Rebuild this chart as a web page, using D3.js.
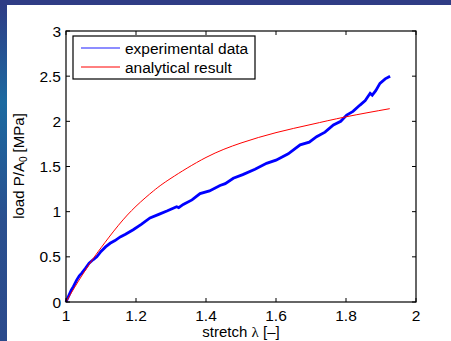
<!DOCTYPE html>
<html>
<head>
<meta charset="utf-8">
<script src="https://cdn.jsdelivr.net/npm/d3@7"></script>
<style>
  html, body { margin: 0; padding: 0; }
  body { width: 451px; height: 341px; overflow: hidden; }
  text { font-family: Arial, "Liberation Sans", sans-serif; fill: #000; }
</style>
</head>
<body>
<svg id="chart" width="451" height="341"></svg>
<script>
// stretch / load values
const expStretch = [1.000, 1.008, 1.015, 1.021, 1.030, 1.038, 1.045, 1.055, 1.066, 1.078, 1.088, 1.100, 1.113, 1.126, 1.140, 1.155, 1.170, 1.192, 1.215, 1.240, 1.265, 1.290, 1.316, 1.322, 1.335, 1.360, 1.383, 1.410, 1.440, 1.455, 1.478, 1.505, 1.540, 1.573, 1.600, 1.635, 1.669, 1.695, 1.716, 1.740, 1.764, 1.785, 1.802, 1.820, 1.840, 1.855, 1.869, 1.875, 1.885, 1.897, 1.912, 1.926];
const expLoad    = [0.00, 0.07, 0.13, 0.17, 0.24, 0.29, 0.32, 0.37, 0.43, 0.47, 0.50, 0.56, 0.61, 0.65, 0.68, 0.72, 0.75, 0.80, 0.86, 0.93, 0.97, 1.01, 1.055, 1.045, 1.08, 1.13, 1.20, 1.23, 1.29, 1.31, 1.37, 1.41, 1.47, 1.535, 1.57, 1.64, 1.74, 1.77, 1.83, 1.88, 1.96, 2.00, 2.07, 2.11, 2.18, 2.23, 2.31, 2.29, 2.34, 2.42, 2.47, 2.50];

const anaStretch = [1.000, 1.025, 1.050, 1.075, 1.100, 1.150, 1.200, 1.250, 1.300, 1.400, 1.500, 1.600, 1.700, 1.800, 1.925];
const anaLoad    = [0.00, 0.165, 0.32, 0.465, 0.60, 0.85, 1.06, 1.23, 1.37, 1.60, 1.76, 1.875, 1.965, 2.05, 2.14];

const xTicks = [1, 1.2, 1.4, 1.6, 1.8, 2];
const yTicks = [0, 0.5, 1, 1.5, 2, 2.5, 3];
const seriesNames = ['experimental data', 'analytical result'];
const seriesColors = ['#0000ff', '#ff0000'];

const svg = d3.select('#chart');

// slide background behind the figure
const defs = svg.append('defs');
const grad = defs.append('linearGradient')
    .attr('id', 'bg')
    .attr('x1', 0).attr('y1', 0).attr('x2', 0).attr('y2', 1);
grad.append('stop').attr('offset', '0%').attr('stop-color', '#2f3a84');
grad.append('stop').attr('offset', '30%').attr('stop-color', '#1c6aa0');
grad.append('stop').attr('offset', '65%').attr('stop-color', '#2a4f8e');
grad.append('stop').attr('offset', '100%').attr('stop-color', '#2b4a8c');
svg.append('rect').attr('width', 451).attr('height', 341).attr('fill', 'url(#bg)');
svg.append('rect').attr('width', 451).attr('height', 5).attr('fill', '#2f3c85');
svg.append('rect').attr('x', 7).attr('y', 5).attr('width', 444).attr('height', 336).attr('fill', '#fff');

const m = { left: 66, right: 416, top: 31, bottom: 302 };
const x = d3.scaleLinear().domain([1, 2]).range([m.left, m.right]);
const y = d3.scaleLinear().domain([0, 3]).range([m.bottom, m.top]);

const plot = svg.append('g');

// curves
const line = d3.line().x(d => x(d[0])).y(d => y(d[1]));
const expPts = expStretch.map((s, i) => [s, expLoad[i]]);
const anaPts = anaStretch.map((s, i) => [s, anaLoad[i]]);

plot.append('path')
    .datum(expPts)
    .attr('d', line)
    .attr('fill', 'none')
    .attr('stroke', seriesColors[0])
    .attr('stroke-width', 2.8)
    .attr('stroke-linejoin', 'miter');

plot.append('path')
    .datum(anaPts)
    .attr('d', d3.line().curve(d3.curveNatural).x(d => x(d[0])).y(d => y(d[1])))
    .attr('fill', 'none')
    .attr('stroke', seriesColors[1])
    .attr('stroke-width', 1);

// axes (inward ticks on all four sides)
const tickLen = 4;
const axes = svg.append('g');
axes.append('rect')
    .attr('x', m.left).attr('y', m.top)
    .attr('width', m.right - m.left).attr('height', m.bottom - m.top)
    .attr('fill', 'none').attr('stroke', '#000').attr('stroke-width', 1.2);

xTicks.forEach(t => {
    axes.append('line').attr('x1', x(t)).attr('x2', x(t)).attr('y1', m.bottom).attr('y2', m.bottom - tickLen).attr('stroke', '#000');
    axes.append('line').attr('x1', x(t)).attr('x2', x(t)).attr('y1', m.top).attr('y2', m.top + tickLen).attr('stroke', '#000');
    axes.append('text')
        .attr('x', x(t)).attr('y', 321)
        .attr('text-anchor', 'middle')
        .style('font-size', '15.5px')
        .text(d3.format('~g')(t));
});

yTicks.forEach(t => {
    axes.append('line').attr('x1', m.left).attr('x2', m.left + tickLen).attr('y1', y(t)).attr('y2', y(t)).attr('stroke', '#000');
    axes.append('line').attr('x1', m.right).attr('x2', m.right - tickLen).attr('y1', y(t)).attr('y2', y(t)).attr('stroke', '#000');
    axes.append('text')
        .attr('x', 61).attr('y', y(t) + 5.5)
        .attr('text-anchor', 'end')
        .style('font-size', '15.5px')
        .text(d3.format('~g')(t));
});

// axis titles
const xTitle = axes.append('text')
    .attr('x', x(1.5)).attr('y', 337)
    .attr('text-anchor', 'middle')
    .style('font-size', '15px');
xTitle.append('tspan').text('stretch ');
xTitle.append('tspan').style('font-family', 'serif').text('λ');
xTitle.append('tspan').text(' [–]');

const yTitle = axes.append('text')
    .attr('transform', 'translate(24,166) rotate(-90)')
    .attr('text-anchor', 'middle')
    .style('font-size', '15px');
yTitle.append('tspan').text('load P/A');
yTitle.append('tspan').attr('dy', 3).style('font-size', '10px').text('0');
yTitle.append('tspan').attr('dy', -3).text(' [MPa]');

// legend
const legend = svg.append('g');
legend.append('rect')
    .attr('x', 73).attr('y', 36).attr('width', 182).attr('height', 43)
    .attr('fill', '#fff').attr('stroke', '#000').attr('stroke-width', 1.2);
seriesNames.forEach((name, i) => {
    const ly = 48 + i * 19;
    legend.append('line')
        .attr('x1', 81).attr('x2', 120).attr('y1', ly).attr('y2', ly)
        .attr('stroke', seriesColors[i])
        .attr('stroke-width', i === 0 ? 1.6 : 1)
        .attr('stroke-opacity', i === 0 ? 0.6 : 1);
    legend.append('text')
        .attr('x', 125).attr('y', ly + 5.5)
        .style('font-size', '15.5px')
        .text(name);
});
</script>
</body>
</html>
